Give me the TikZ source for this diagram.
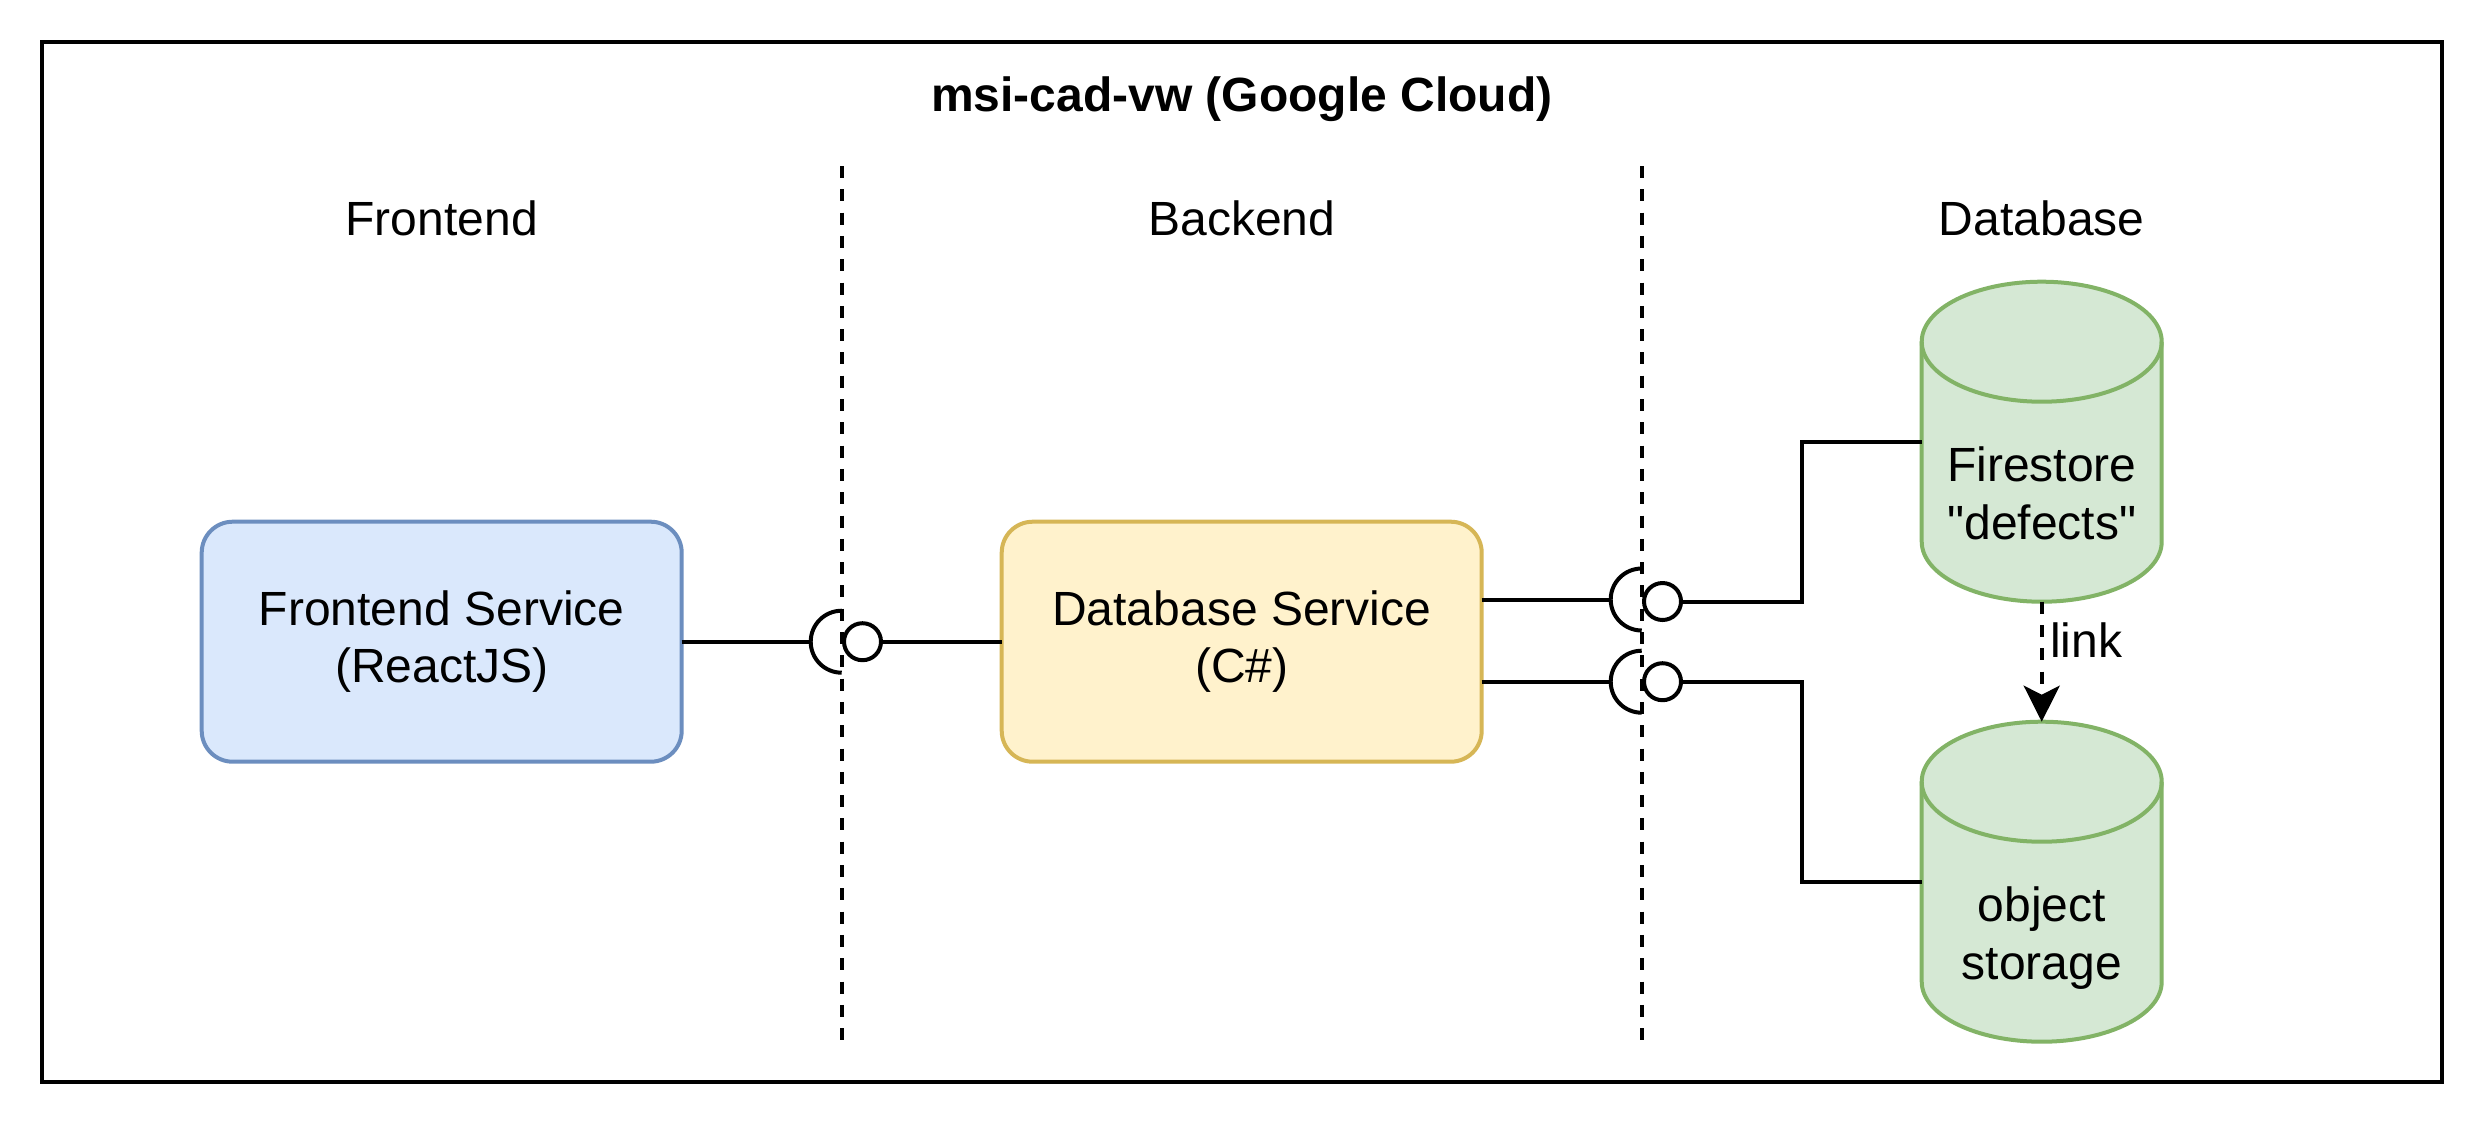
\documentclass[tikz,border=0pt]{standalone}
\usepackage{fontspec}
\setmainfont{Liberation Sans}[Ligatures=TeXOff]
\usetikzlibrary{arrows.meta,calc}
\definecolor{feFill}{HTML}{DAE8FC}
\definecolor{feLine}{HTML}{6C8EBF}
\definecolor{dbFill}{HTML}{FFF2CC}
\definecolor{dbLine}{HTML}{D6B656}
\definecolor{cyFill}{HTML}{D5E8D4}
\definecolor{cyLine}{HTML}{82B366}
\begin{document}
\begin{tikzpicture}[x=1pt,y=1pt,
  every node/.style={font=\fontsize{48pt}{57.6pt}\selectfont, inner sep=0pt, outer sep=0pt},
  ln/.style={line width=4pt, draw=black},
  svcbox/.style={draw, line width=4pt, rounded corners=31pt, minimum width=480pt, minimum height=240pt, align=center},
  divider/.style={line width=4pt, dash pattern=on 12pt off 11.3pt},
  ballnode/.style={circle, draw, fill=white, line width=4pt, minimum size=37pt},
  cylslot/.style={minimum width=240pt, minimum height=320pt},
  cylbody/.style={fill=cyFill, draw=cyLine, line width=4pt},
  cylline/.style={draw=cyLine, line width=4pt},
  linkarrow/.style={line width=4pt, dash pattern=on 12pt off 11.3pt, -{Stealth[length=36pt,width=36pt,inset=9pt]}},
  frame/.style={draw, line width=4pt, minimum width=2400pt, minimum height=1040pt},
]
\useasboundingbox (0,0) rectangle (2488,-1128);
\fill[white] (0,0) rectangle (2488,-1128);

% frame and labels
\node[frame] (frame) at (1241.7,-561.7) {};
\node[anchor=base, font=\fontsize{48pt}{57.6pt}\selectfont\bfseries] (title) at (1241.7,-111.7) {msi-cad-vw (Google Cloud)};
\node[anchor=base] (colfe) at (441.7,-235) {Frontend};
\node[anchor=base] (colbe) at (1241.7,-235) {Backend};
\node[anchor=base] (coldb) at (2041.7,-235) {Database};

% dividers
\coordinate (d1t) at (841.7,-166);
\coordinate (d1b) at (841.7,-1041.7);
\coordinate (d2t) at (1641.7,-166);
\coordinate (d2b) at (1641.7,-1041.7);
\draw[divider] (d1t) -- (d1b);
\draw[divider] (d2t) -- (d2b);

% service boxes
\node[svcbox, fill=feFill, draw=feLine] (fe) at (441.7,-641.7) {Frontend Service\\(ReactJS)};
\node[svcbox, fill=dbFill, draw=dbLine] (db) at (1241.7,-641.7) {Database Service\\(C\#)};

% cylinder slots
\node[cylslot] (fs) at (2041.7,-441.7) {};
\node[cylslot] (os) at (2041.7,-881.7) {};
\foreach \c in {fs,os}{
  \path[cylbody] ([yshift=-60pt]\c.north west) -- ([yshift=60pt]\c.south west)
    arc[start angle=180,end angle=360,x radius=120pt,y radius=60pt]
    -- ([yshift=-60pt]\c.north east)
    arc[start angle=0,end angle=180,x radius=120pt,y radius=60pt] -- cycle;
  \draw[cylline] ([yshift=-60pt]\c.north west) arc[start angle=180,end angle=360,x radius=120pt,y radius=60pt];
}
\node[anchor=base] (fs1) at (2041.7,-481.5) {Firestore};
\node[anchor=base] (fs2) at (2041.7,-539.1) {"defects"};
\node[anchor=base] (os1) at (2041.7,-921.5) {object};
\node[anchor=base] (os2) at (2041.7,-979.1) {storage};

% interface 1 (frontend - database service)
\coordinate (s1) at (810.7,-641.7);
\node[ballnode] (b1) at (862.5,-641.7) {};
\draw[ln] (fe.east) -- (s1);
\draw[ln] (s1) arc[start angle=180,end angle=90,radius=31pt];
\draw[ln] (s1) arc[start angle=180,end angle=270,radius=31pt];
\draw[ln] (b1.east) -- (db.west);

% interface 2 (upper)
\coordinate (s2) at (1610.7,-599.5);
\node[ballnode] (b2) at (1662.5,-601.5) {};
\coordinate (j1) at (1801.7,-601.5);
\draw[ln] (db.east |- s2) -- (s2);
\draw[ln] (s2) arc[start angle=180,end angle=90,radius=31pt];
\draw[ln] (s2) arc[start angle=180,end angle=270,radius=31pt];
\draw[ln] (b2.east) -- (j1) |- (fs.west);

% interface 3 (lower)
\coordinate (s3) at (1610.7,-681.7);
\node[ballnode] (b3) at (1662.5,-681.7) {};
\coordinate (j2) at (1801.7,-681.7);
\draw[ln] (db.east |- s3) -- (s3);
\draw[ln] (s3) arc[start angle=180,end angle=90,radius=31pt];
\draw[ln] (s3) arc[start angle=180,end angle=270,radius=31pt];
\draw[ln] (b3.east) -- (j2) |- (os.west);

% link arrow
\draw[linkarrow] (fs.south) -- (os.north);
\node[anchor=base west] (lnk) at (2050,-657) {link};
\end{tikzpicture}
\end{document}
